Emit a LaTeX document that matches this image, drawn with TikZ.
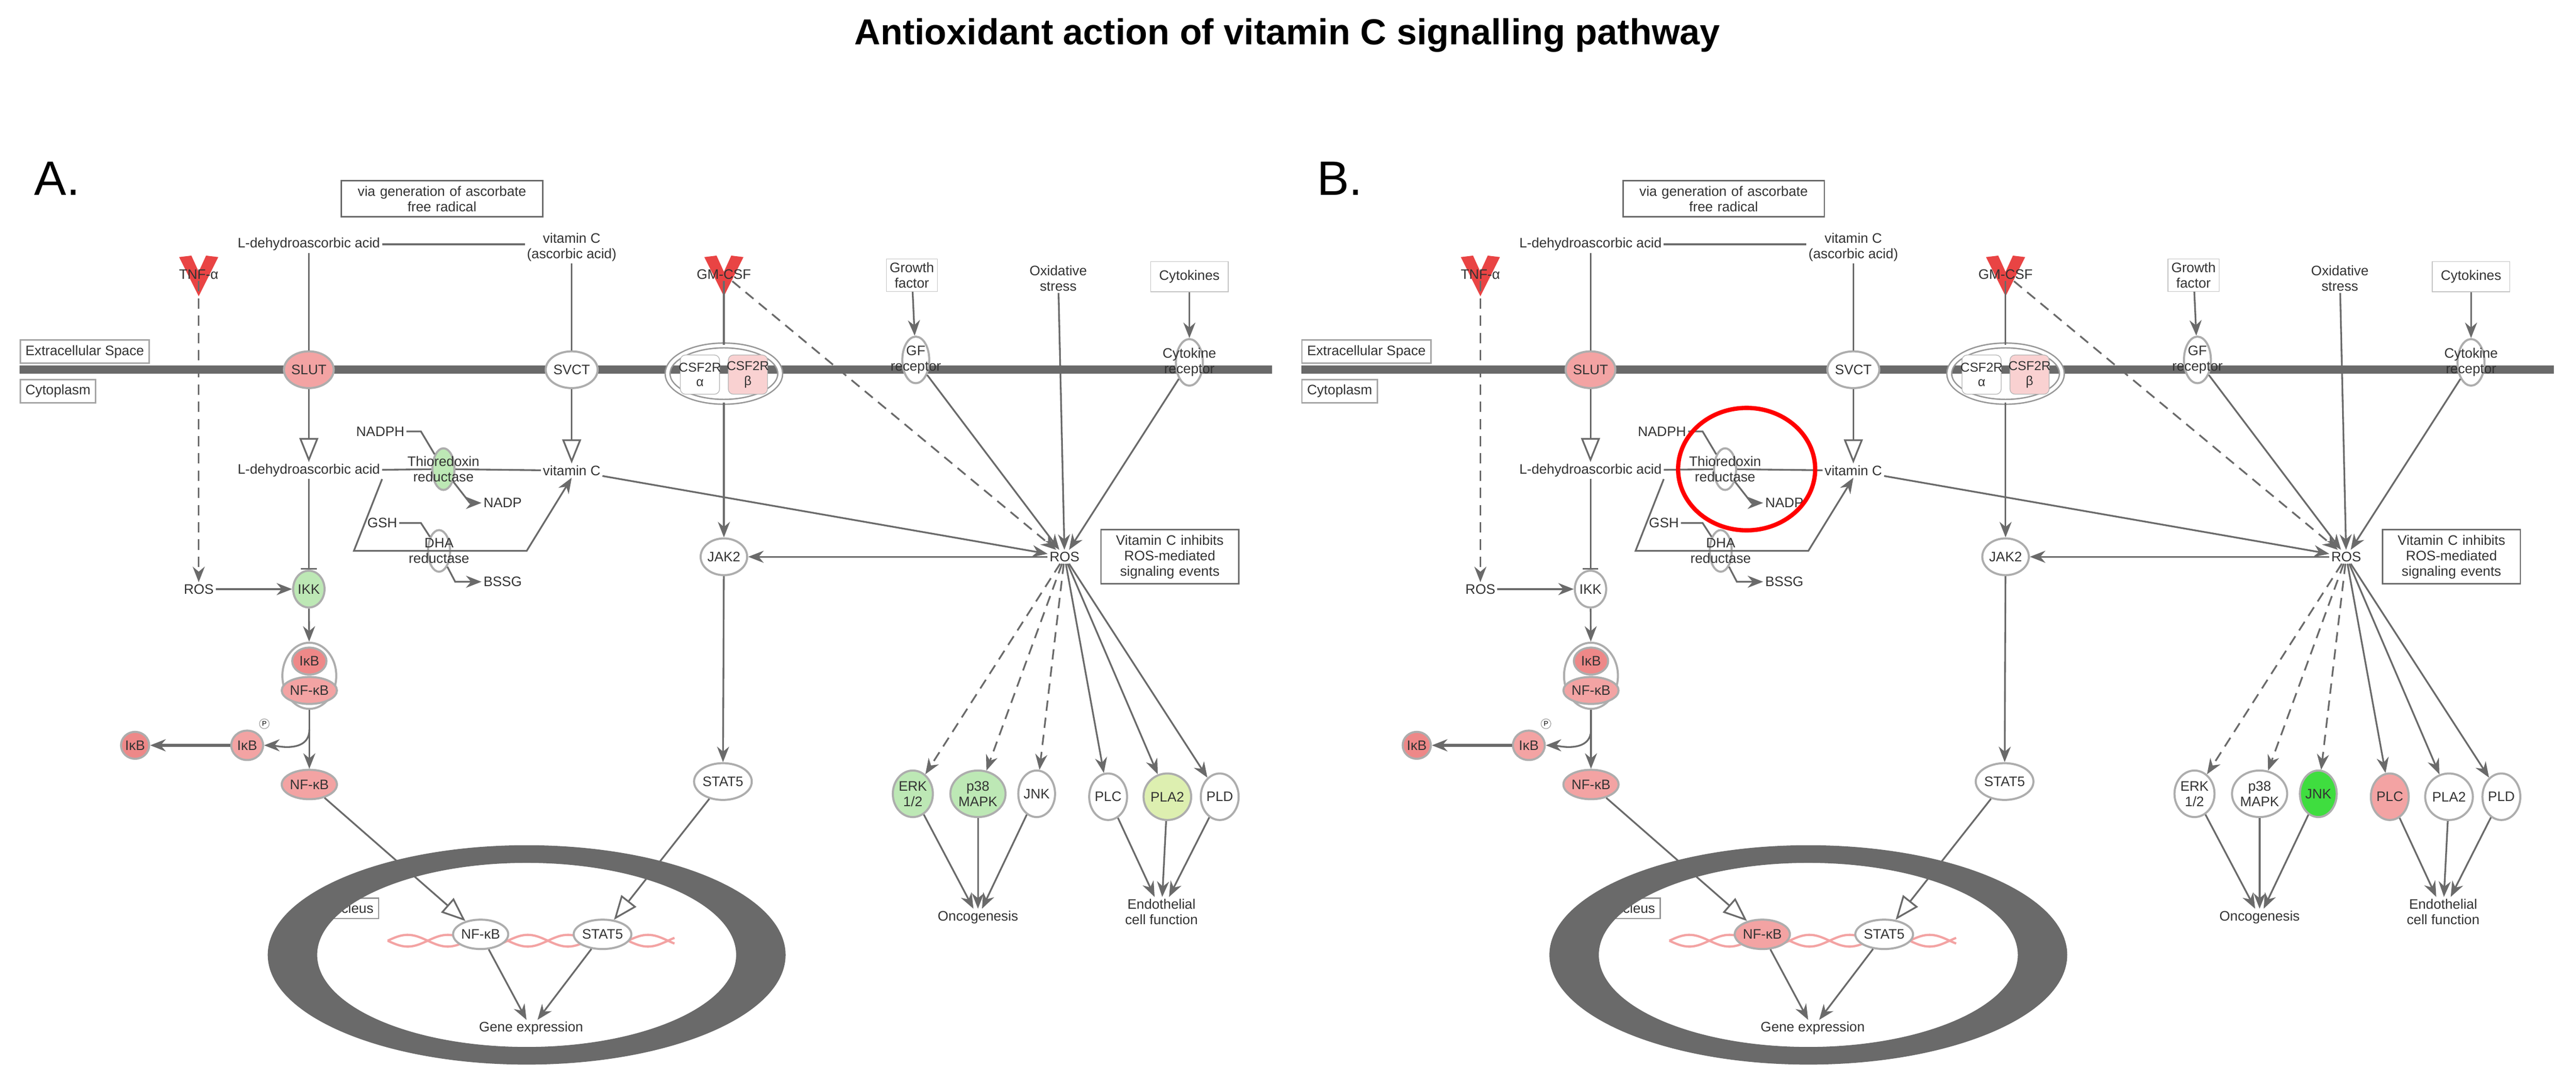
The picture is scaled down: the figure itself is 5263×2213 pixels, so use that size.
\documentclass[tikz,border=0pt]{standalone}
\usepackage{fontspec}
\setmainfont{Liberation Sans}
\usetikzlibrary{shapes.geometric,arrows.meta,calc}
\definecolor{ln}{HTML}{6A6A6A}
\definecolor{tx}{HTML}{333333}
\definecolor{pk}{HTML}{F3A3A3}
\definecolor{pkd}{HTML}{EE8888}
\definecolor{gr}{HTML}{BDE8B5}
\definecolor{gbr}{HTML}{3FDD3F}
\definecolor{ylg}{HTML}{DDEFB0}
\definecolor{lig}{HTML}{E94444}
\tikzset{
 t/.style={font=\fontsize{8}{9}\selectfont, text=tx, align=center, inner sep=1pt},
 ell/.style={ellipse, draw=ln!55, line width=1.2pt, minimum width=0.6cm, minimum height=0.75cm, inner sep=0pt, font=\fontsize{8}{9}\selectfont, text=tx, align=center},
 tall/.style={ell, minimum width=0.55cm, minimum height=0.95cm},
 bx/.style={t, draw=ln, line width=0.8pt, inner sep=3pt},
 c/.style={draw=ln, line width=1pt},
 a/.style={c, -{Stealth[length=9pt,width=7pt]}},
 oa/.style={c, -{Triangle[open,length=14pt,width=11pt]}},
 da/.style={a, dash pattern=on 6pt off 4pt},
 inh/.style={c, -{Bar[width=9pt]}},
}
\newcommand\ligand[1]{\fill[lig] ($(#1)+(-40,-35)$) -- ($(#1)+(-15,-38)$) -- ($(#1)+(0,-5)$) -- ($(#1)+(15,-38)$) -- ($(#1)+(40,-35)$) -- ($(#1)+(0,45)$) -- cycle;}
\newcommand\drawpanel{%
 \draw[line width=0.17cm, color=ln] (40,755) -- (2599,755);
 \node[bx, anchor=west, draw=ln!60] (ext) at (40,718) {Extracellular Space};
 \node[bx, anchor=west, draw=ln!60] (cyt) at (40,799) {Cytoplasm};
 \node[bx, text width=3.9cm] (via) at (903,406) {via generation of ascorbate\\free radical};
 \node[t] (ldhaT) at (631,499) {L-dehydroascorbic acid};
 \node[t] (vitCT) at (1168,505) {vitamin C\\(ascorbic acid)};
 \node[ell, fill=pk] (slut) at (631,755) {SLUT};
 \node[ell, fill=white] (svct) at (1168,755) {SVCT};
 \node[t] (ldhaM) at (631,961) {L-dehydroascorbic acid};
 \node[t] (vitCM) at (1168,961) {vitamin C};
 \node[ell, fill=thioF, minimum width=0.45cm, minimum height=0.85cm] (thio) at (906,958) {};
 \node[t] (thioL) at (906,958) {Thioredoxin\\reductase};
 \node[t] (nadph) at (777,881) {NADPH};
 \node[t] (nadp) at (1027,1027) {NADP};
 \node[t] (gsh) at (781,1068) {GSH};
 \node[ell, fill=white, minimum width=0.45cm, minimum height=0.85cm] (dha) at (897,1125) {};
 \node[t] (dhaL) at (897,1125) {DHA\\reductase};
 \node[t] (bssg) at (1027,1188) {BSSG};
 \coordinate (p1) at (723,1125); \coordinate (p2) at (1076,1125);
 \node[t] (rosl) at (406,1203) {ROS};
 \node[ell, fill=ikkF] (ikk) at (631,1203) {IKK};
 \ligand{406,560}
 \node[t] (tnf) at (406,560) {TNF-α};
 \node[ellipse, draw=ln!55, line width=1.2pt, minimum width=1.1cm, minimum height=1.35cm] (cpx) at (632,1380) {};
 \node[ell, fill=pkd, minimum width=0.7cm, minimum height=0.55cm] (ikb) at (632,1350) {IκB};
 \node[ell, fill=pk, minimum width=0.7cm, minimum height=0.55cm] (nfkbC) at (632,1410) {NF-κB};
 \node[ell, fill=pk, minimum width=0.65cm, minimum height=0.6cm] (ikbp) at (505,1522) {IκB};
 \node[circle, draw=ln!60, fill=white, inner sep=0pt, minimum size=0.2cm, font=\fontsize{4}{4}\selectfont] (ph) at (540,1478) {P};
 \node[ell, fill=pkd, minimum width=0.45cm, minimum height=0.55cm] (ikbf) at (276,1522) {IκB};
 \node[ell, fill=pk, minimum width=0.65cm, minimum height=0.6cm] (nfkb) at (632,1602) {NF-κB};
 \ligand{1479,560}
 \node[t] (gm) at (1479,560) {GM-CSF};
 \node[ellipse, draw=ln!70, double=white, double distance=2pt, line width=0.8pt, minimum width=2.3cm, minimum height=1.15cm] (csf) at (1479,763) {};
 \node[draw=ln!50, rounded corners=3pt, minimum width=0.8cm, minimum height=0.8cm, fill=white] (csfa) at (1430,765) {};
 \node[draw=ln!50, rounded corners=3pt, minimum width=0.8cm, minimum height=0.8cm, fill=pk!50] (csfb) at (1528,765) {};
 \node[t, font=\fontsize{7.5}{8.5}\selectfont] at (csfa) {CSF2R\\α};
 \node[t, font=\fontsize{7.5}{8.5}\selectfont] at (csfb) {CSF2R\\β};
 \node[ell, fill=white] (jak) at (1479,1137) {JAK2};
 \node[ell, fill=white, minimum width=0.65cm] (stat) at (1477,1596) {STAT5};
 \node[t, draw=ln!40, inner sep=2pt] (gf) at (1863,562) {Growth\\factor};
 \node[ell, fill=white, minimum width=0.55cm, minimum height=0.95cm] (gfr) at (1871,735) {};
 \node[t] at (gfr) {GF\\receptor};
 \node[t] (oxi) at (2162,568) {Oxidative\\stress};
 \node[t, draw=ln!40, inner sep=5pt] (cyk) at (2430,565) {Cytokines};
 \node[ell, fill=white, minimum width=0.55cm, minimum height=0.95cm] (cykr) at (2430,740) {};
 \node[t] at (cykr) {Cytokine\\receptor};
 \node[t] (ros) at (2175,1137) {ROS};
 \node[bx, text width=2.6cm] (vib) at (2390,1137) {Vitamin C inhibits\\ROS-mediated\\signaling events};
 \node[tall, fill=erkF] (erk) at (1865,1621) {ERK\\1/2};
 \node[tall, fill=p38F] (p38) at (1998,1621) {p38\\MAPK};
 \node[tall, fill=jnkF] (jnk) at (2118,1621) {JNK};
 \node[tall, fill=plcF] (plc) at (2264,1627) {PLC};
 \node[tall, fill=plaF] (pla) at (2385,1627) {PLA2};
 \node[tall, fill=white] (pld) at (2492,1627) {PLD};
 \node[t] (onco) at (1998,1873) {Oncogenesis};
 \node[t] (endo) at (2373,1862) {Endothelial\\cell function};
 \node[bx, draw=ln!70, anchor=east] (nuc) at (775,1855) {Nucleus};
 \fill[ln, even odd rule] (1076,1950) ellipse [x radius=529, y radius=224] (1076,1950) ellipse [x radius=428, y radius=188];
 \draw[pk, line width=1.3pt, domain=0:586, samples=120] plot ({792+\x},{1921+12*sin(\x*2.2)});
 \draw[pk, line width=1.3pt, domain=0:586, samples=120] plot ({792+\x},{1921-12*sin(\x*2.2)});
 \node[ell, fill=nnfF, minimum width=0.65cm, minimum height=0.6cm] (nnf) at (982,1908) {NF-κB};
 \node[ell, fill=white, minimum width=0.65cm, minimum height=0.6cm] (nst) at (1231,1908) {STAT5};
 \node[t] (gene) at (1085,2100) {Gene expression};
 \draw[c] (ldhaT) -- (vitCT.west |- ldhaT);
 \draw[c] (ldhaT) -- (slut); \draw[oa] (slut) -- (ldhaM);
 \draw[c] (vitCT) -- (svct); \draw[oa] (svct) -- (vitCM);
 \draw[c] (ldhaM) -- (thio) -- (vitCM);
 \draw[c] (nadph) -- (860,881) -- (thio);
 \draw[a] (thio) -- (960,1027) -- (nadp);
 \draw[a] (ldhaM.south east) -- (p1) -- (p2) -- (vitCM.south);
 \draw[c] (gsh) -- (860,1068) -- (dha);
 \draw[a] (dha) -- (930,1188) -- (bssg);
 \draw[inh] (ldhaM) -- (ikk);
 \draw[da] (tnf) -- (rosl);
 \draw[a] (rosl) -- (ikk);
 \draw[a] (ikk) -- (cpx);
 \draw[a] (cpx) -- (nfkb);
 \draw[a] (632,1490) to[out=-90,in=0] (ikbp);
 \draw[a, line width=2pt] (ikbp) -- (ikbf);
 \draw[c] (gm) -- (csf);
 \draw[a] (csf) -- (jak);
 \draw[a] (jak) -- (stat);
 \draw[a] (ros) -- (jak);
 \draw[a] (vitCM) -- (ros);
 \draw[da] (gm) -- (ros);
 \draw[a] (gf) -- (gfr);
 \draw[a] (gfr) -- (ros);
 \draw[a] (oxi) -- (ros);
 \draw[a] (cyk) -- (cykr);
 \draw[a] (cykr) -- (ros);
 \draw[da] (ros) -- (erk); \draw[da] (ros) -- (p38); \draw[da] (ros) -- (jnk);
 \draw[a] (ros) -- (plc); \draw[a] (ros) -- (pla); \draw[a] (ros) -- (pld);
 \draw[a] (erk) -- (onco); \draw[a] (p38) -- (onco); \draw[a] (jnk) -- (onco);
 \draw[a] (plc) -- (endo); \draw[a] (pla) -- (endo); \draw[a] (pld) -- (endo);
 \draw[oa] (nfkb) -- (nnf);
 \draw[oa] (stat) -- (nst);
 \draw[a] (nnf) -- (gene); \draw[a] (nst) -- (gene);
}
\begin{document}
\begin{tikzpicture}[x=0.01cm, y=-0.01cm]
\useasboundingbox (0,0) rectangle (5263,2213);
\fill[white] (0,0) rectangle (5263,2213);
\node[font=\fontsize{21}{25}\selectfont\bfseries] (title) at (2630,72) {Antioxidant action of vitamin C signalling pathway};
\node[font=\fontsize{28}{30}\selectfont] (la) at (117,365) {A.};
\node[font=\fontsize{28}{30}\selectfont] (lb) at (2737,365) {B.};
\begin{scope}[name prefix=A-]
 \colorlet{thioF}{gr}\colorlet{ikkF}{gr}\colorlet{erkF}{gr}\colorlet{p38F}{gr}
 \colorlet{jnkF}{white}\colorlet{plcF}{white}\colorlet{plaF}{ylg}\colorlet{nnfF}{white}
 \drawpanel
\end{scope}
\begin{scope}[xshift=26.17cm, name prefix=B-]
 \colorlet{thioF}{white}\colorlet{ikkF}{white}\colorlet{erkF}{white}\colorlet{p38F}{white}
 \colorlet{jnkF}{gbr}\colorlet{plcF}{pk}\colorlet{plaF}{white}\colorlet{nnfF}{pk}
 \drawpanel
 \draw[red, line width=2.5pt] (950,958) ellipse [x radius=140, y radius=125];
\end{scope}
\end{tikzpicture}
\end{document}
